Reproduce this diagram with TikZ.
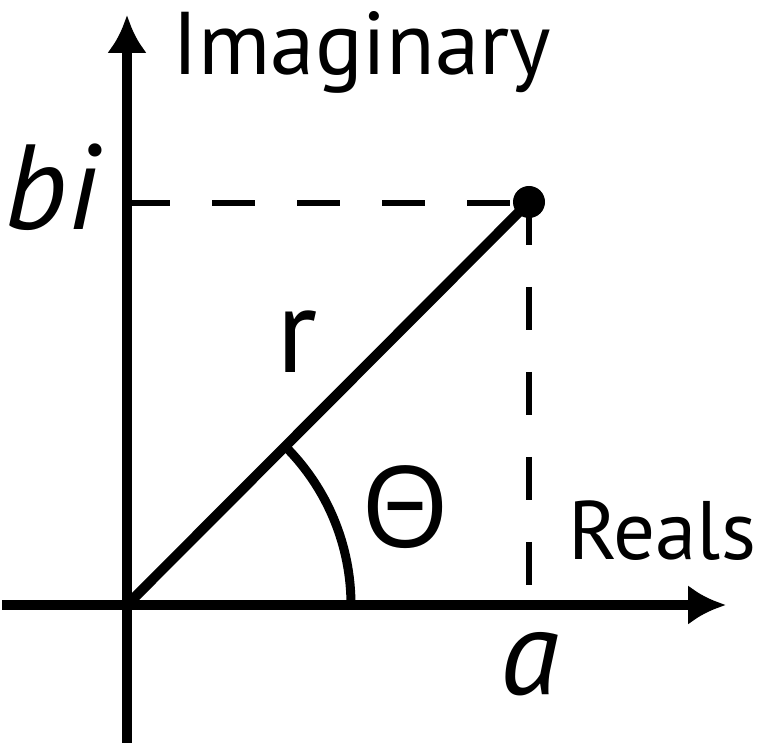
\documentclass[tikz,border=0pt]{standalone}
\usepackage{fontspec}
\setmainfont{PT Sans}
\newfontfamily\greekfont{Open Sans}
\usetikzlibrary{arrows.meta}
\begin{document}
\begin{tikzpicture}[x=1pt,y=1pt,
  axis/.style={line width=10pt,-{Latex[length=38pt,width=40pt]}},
  guide/.style={line width=6pt,dash pattern=on 43pt off 42pt},
  big/.style={font=\fontsize{121}{121}\selectfont},
  mid/.style={font=\fontsize{83}{83}\selectfont},
  lbl/.style={inner sep=0pt,anchor=base}]
\useasboundingbox (0,0) rectangle (761,743);
\coordinate (O) at (127,138);
\coordinate (P) at (529,541);
\coordinate (Ybot) at (127,0);
\coordinate (Ytop) at (127,728);
\coordinate (Xleft) at (2,138);
\coordinate (Xright) at (726,138);
\coordinate (Hy) at (127,540);
\coordinate (Hyd) at (529,540);
\coordinate (Vx) at (529,138);
\draw[guide] (Hy) -- (Hyd);
\draw[guide] (P) -- (Vx);
\draw[axis] (Ybot) -- (Ytop);
\draw[axis] (Xleft) -- (Xright);
\draw[line width=10pt] (O) -- (P);
\draw[line width=9pt] (351,138) arc[start angle=0,end angle=45,radius=224pt];
\fill (P) circle[radius=16pt];
\node[lbl,font=\fontsize{89}{89}\selectfont] (im) at (362,668) {Imaginary};
\node[lbl,mid] (re) at (662,183) {Reals};
\node[lbl,big] (a) at (530,48) {\itshape a};
\node[lbl,big] (bi) at (52,513) {\itshape bi};
\node[lbl,big] (r) at (297,370) {r};
\node[inner sep=0pt,font=\greekfont\fontsize{113}{113}\selectfont] (th) at (405,236) {Θ};
\end{tikzpicture}
\end{document}
